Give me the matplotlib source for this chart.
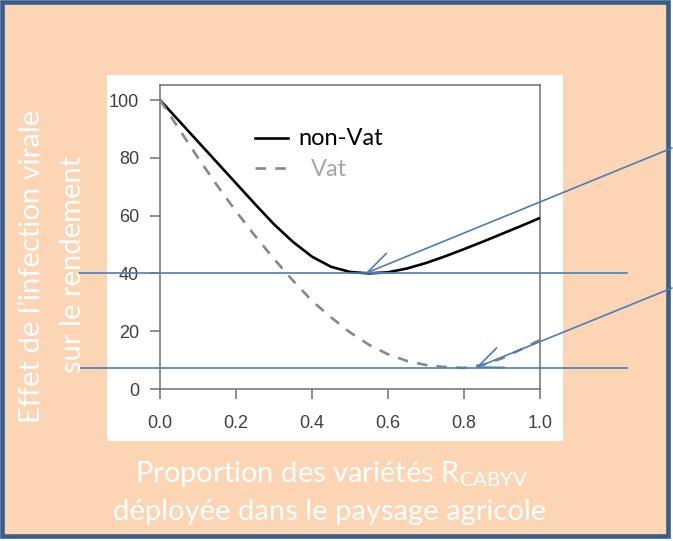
import matplotlib
matplotlib.use("Agg")
import matplotlib.pyplot as plt
from matplotlib.patches import Rectangle

# Proportion of resistant varieties deployed
proportion = [0.00, 0.05, 0.10, 0.15, 0.20, 0.25, 0.30, 0.35, 0.40, 0.45, 0.50,
              0.55, 0.60, 0.65, 0.70, 0.75, 0.80, 0.85, 0.90, 0.95, 1.00]
# Yield effect of viral infection
non_vat = [100, 92.8, 85.6, 78.4, 71.2, 64.0, 57.0, 50.9, 45.8, 42.3, 40.5,
           40.0, 40.4, 41.7, 43.6, 45.9, 48.4, 51.0, 53.7, 56.4, 59.2]
vat = [100, 90, 80, 70.5, 61.5, 53, 45, 37.5, 30.5, 24.8, 19.6,
       15.3, 12.0, 9.7, 8.3, 7.6, 7.3, 8.4, 10.6, 13.7, 17]
x_ticks = [0.0, 0.2, 0.4, 0.6, 0.8, 1.0]
x_tick_labels = ["0.0", "0.2", "0.4", "0.6", "0.8", "1.0"]
y_ticks = [0, 20, 40, 60, 80, 100]
y_tick_labels = ["0", "20", "40", "60", "80", "100"]
series_names = ["non-Vat", "Vat"]

W, H = 673, 541
PEACH = "#FCD5B5"
FRAME_BLUE = "#385D8A"
LINE_BLUE = "#4A7EBB"
TXT_FONT = ["Lato", "DejaVu Sans"]

plt.rcParams["mathtext.fontset"] = "custom"
plt.rcParams["mathtext.rm"] = "Lato"

fig = plt.figure(figsize=(W / 100, H / 100), dpi=100, facecolor="white")


def fx(x):
    return x / W


def fy(y):
    return 1 - y / H


# Slide-style panel with dark blue outline
fig.add_artist(Rectangle((fx(2), fy(536)), fx(665.5), (534) / H,
                         transform=fig.transFigure, facecolor=PEACH,
                         edgecolor=FRAME_BLUE, linewidth=3.3, zorder=-2))
# White plot card
fig.add_artist(Rectangle((fx(107), fy(441)), fx(563 - 107), (441 - 75) / H,
                         transform=fig.transFigure, facecolor="white",
                         edgecolor="none", zorder=-1))

ax = fig.add_axes([fx(160), fy(389), fx(380), 304 / H])
ax.set_facecolor("white")
ax.set_xlim(0, 1)
ax.set_ylim(0, 105.2)

ax.plot(proportion, non_vat, color="black", lw=1.9, solid_capstyle="butt",
        solid_joinstyle="round", zorder=3)
ax.plot(proportion, vat, color="#888888", lw=1.9, dashes=(4.0, 3.5),
        zorder=3)

for s in ax.spines.values():
    s.set_color("#707070")
    s.set_linewidth(1.1)

ax.set_xticks(x_ticks)
ax.set_xticklabels(x_tick_labels)
ax.set_yticks(y_ticks)
ax.set_yticklabels(y_tick_labels)
ax.tick_params(axis="both", direction="out", length=7.5, width=1.1,
               color="#707070", labelcolor="#404040", labelsize=13)
ax.tick_params(axis="x", pad=11)
ax.tick_params(axis="y", pad=7.5)
for lab in ax.get_xticklabels() + ax.get_yticklabels():
    lab.set_family(["Liberation Sans", "DejaVu Sans"])

# Legend drawn by hand inside the axes
ax.plot([0.25, 0.337], [0.8257, 0.8257], transform=ax.transAxes,
        color="black", lw=1.9, clip_on=False)
ax.plot([0.25, 0.337], [0.727, 0.727], transform=ax.transAxes,
        color="#888888", lw=1.9, dashes=(4.0, 3.5), clip_on=False)
fig.text(fx(298), fy(139), series_names[0], ha="left", va="center",
         fontsize=17, color="black", family=TXT_FONT)
fig.text(fx(311), fy(169), series_names[1], ha="left", va="center",
         fontsize=17, color="#A6A6A6", family=TXT_FONT)

# Minimum levels of each curve, extended across the panel
min_nv = min(non_vat)
min_v = min(vat)
x_left = (79 - 160) / 380
x_right = (627 - 160) / 380
for m in (min_nv, min_v):
    ax.plot([x_left, x_right], [m, m], color=LINE_BLUE, lw=1.2,
            clip_on=False, zorder=5)

x_nv = proportion[non_vat.index(min_nv)]
x_v = proportion[vat.index(min_v)]
arrow_kw = dict(arrowstyle="->,head_length=1.0,head_width=0.42",
                color=LINE_BLUE, lw=1.2, mutation_scale=18,
                shrinkA=0, shrinkB=0)
ax.annotate("", xy=(x_nv - 0.01, min_nv), xycoords="data",
            xytext=(672, H - 148), textcoords="figure pixels",
            arrowprops=arrow_kw, annotation_clip=False, zorder=6)
ax.annotate("", xy=(x_v + 0.03, min_v), xycoords="data",
            xytext=(672, H - 288), textcoords="figure pixels",
            arrowprops=arrow_kw, annotation_clip=False, zorder=6)

# Axis titles in white on the panel
fig.text(fx(32), fy(266), "Effet de l\u2019infection virale", rotation=90,
         ha="center", va="center", fontsize=21, color="white",
         family=TXT_FONT)
fig.text(fx(73), fy(264), "sur le rendement", rotation=90,
         ha="center", va="center", fontsize=21, color="white",
         family=TXT_FONT)
fig.text(fx(332), fy(474), "Proportion des vari\u00e9t\u00e9s $\\mathrm{R_{CABYV}}$",
         ha="center", va="center", fontsize=21, color="white",
         family=TXT_FONT)
fig.text(fx(330), fy(512), "d\u00e9ploy\u00e9e dans le paysage agricole",
         ha="center", va="center", fontsize=21, color="white",
         family=TXT_FONT)

fig.savefig("out.png", dpi=100, facecolor="white")
